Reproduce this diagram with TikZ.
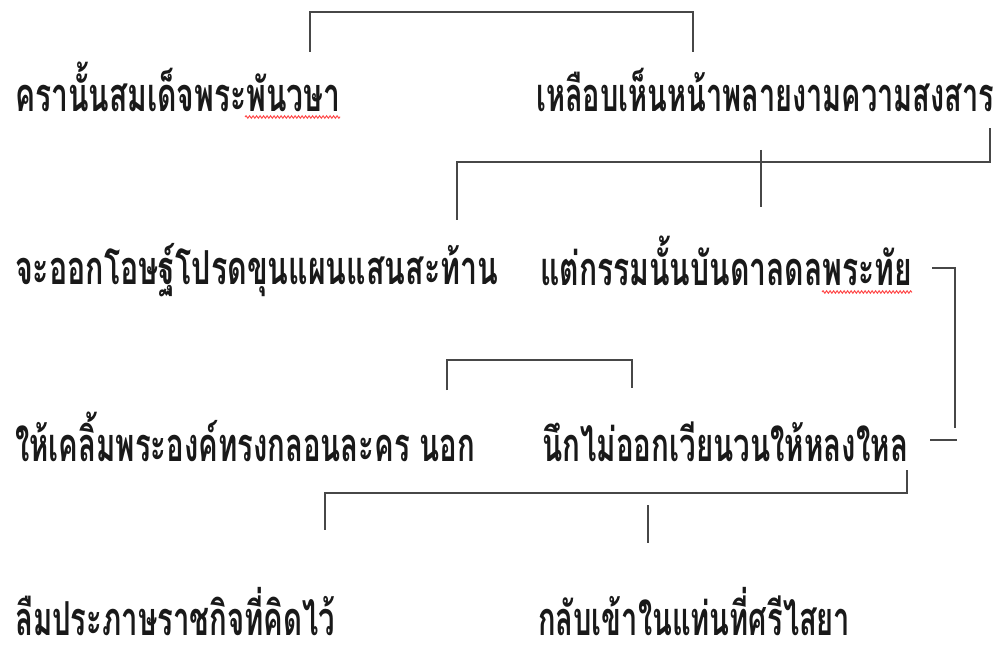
\documentclass[tikz,border=0pt]{standalone}
\usepackage{fontspec}
\usepackage{graphicx}
\newfontfamily\thai[Script=Thai]{Loma}
\usetikzlibrary{decorations.pathmorphing}
\newcommand\fitw[2]{\raisebox{0pt}[\height][0pt]{\resizebox{#1}{\height}{#2}}}
\tikzset{
  verse/.style={inner sep=0pt, anchor=base west, text=black!90,
    font=\thai\bfseries\fontsize{47}{52}\selectfont},
  rhyme/.style={draw=black!72, line width=2.2bp, line cap=butt, line join=miter},
  wavy/.style={draw=red!70, line width=1bp, decorate,
    decoration={snake, amplitude=1.2bp, segment length=3.5bp}}
}
\begin{document}
\begin{tikzpicture}[x=1bp,y=-1bp]
\useasboundingbox[fill=white] (0,0) rectangle (1007,647);
% verses
\node[verse] (l1a) at (15,112) {\fitw{325bp}{ครานั้นสมเด็จพระพันวษา}};
\node[verse] (l1b) at (536,112) {\fitw{458bp}{เหลือบเห็นหน้าพลายงามความสงสาร}};
\node[verse] (l2a) at (15,285) {\fitw{483bp}{จะออกโอษฐ์โปรดขุนแผนแสนสะท้าน}};
\node[verse] (l2b) at (540,285) {\fitw{372bp}{แต่กรรมนั้นบันดาลดลพระทัย}};
\node[verse] (l3a) at (15,461) {\fitw{460bp}{ให้เคลิ้มพระองค์ทรงกลอนละคร นอก}};
\node[verse] (l3b) at (542,461) {\fitw{366bp}{นึกไม่ออกเวียนวนให้หลงใหล}};
\node[verse] (l4a) at (15,635) {\fitw{320bp}{ลืมประภาษราชกิจที่คิดไว้}};
\node[verse] (l4b) at (538,635) {\fitw{312bp}{กลับเข้าในแท่นที่ศรีไสยา}};
% rhyme link end points
\coordinate (a1) at (310,52);  \coordinate (a2) at (693,52);
\coordinate (b1) at (457,220); \coordinate (b2) at (990,128);
\coordinate (b3) at (761,150); \coordinate (b4) at (761,207);
\coordinate (c1) at (932,268); \coordinate (c2) at (955,428);
\coordinate (c3) at (930,440); \coordinate (c4) at (957,440);
\coordinate (d1) at (447,390); \coordinate (d2) at (632,388);
\coordinate (e1) at (907,470); \coordinate (e2) at (325,530);
\coordinate (e3) at (648,505); \coordinate (e4) at (648,543);
\coordinate (w1) at (245,117); \coordinate (w2) at (340,117);
\coordinate (w3) at (822,292); \coordinate (w4) at (912,292);
% rhyme links
\draw[rhyme] (a1) |- (310,12) -| (a2);
\draw[rhyme] (b1) |- (990,162) -- (b2);
\draw[rhyme] (b3) -- (b4);
\draw[rhyme] (c1) -| (c2);
\draw[rhyme] (c3) -- (c4);
\draw[rhyme] (d1) |- (632,360) -- (d2);
\draw[rhyme] (e1) |- (325,493) -- (e2);
\draw[rhyme] (e3) -- (e4);
% spelling marks
\draw[wavy] (w1) -- (w2);
\draw[wavy] (w3) -- (w4);
\end{tikzpicture}
\end{document}
